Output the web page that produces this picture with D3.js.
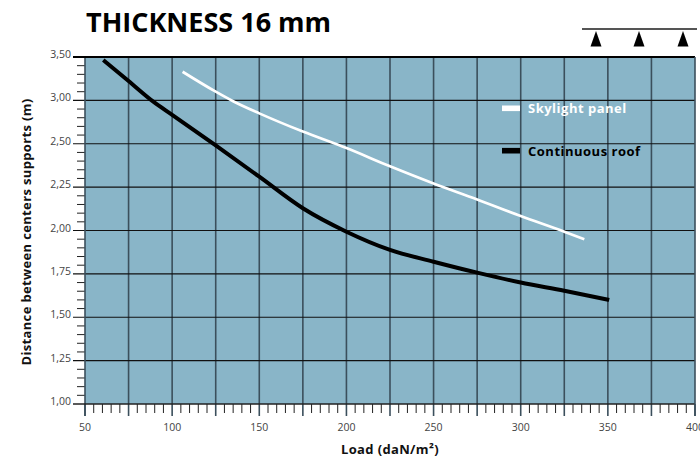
<!DOCTYPE html>
<html><head><meta charset="utf-8">
<script src="https://cdn.jsdelivr.net/npm/d3@7/dist/d3.min.js"></script>
<style>body{margin:0;background:#fff}svg{display:block}</style>
</head><body><svg id="c" width="700" height="458"></svg>
<script>
// ---- data ----
const chartTitle = "THICKNESS 16 mm";
const xTitle = "Load (daN/m²)";
const yTitle = "Distance between centers supports (m)";
const seriesNames = ["Skylight panel", "Continuous roof"];
const xLabelTicks = [50, 100, 150, 200, 250, 300, 350, 400];
const xGridTicks = [50, 75, 100, 125, 150, 175, 200, 225, 250, 275, 300, 325, 350, 375, 400];
const yTickValues = [1.00, 1.25, 1.50, 1.75, 2.00, 2.25, 2.50, 3.00, 3.50];
const yTickLabels = ["1,00", "1,25", "1,50", "1,75", "2,00", "2,25", "2,50", "3,00", "3,50"];
const skylightLoad = [106, 125, 135, 150, 175, 200, 225, 250, 275, 300, 325, 336.5];
const skylightSpan = [3.33, 3.10, 2.99, 2.85, 2.64, 2.475, 2.37, 2.271, 2.179, 2.083, 1.993, 1.949];
const roofLoad = [60.5, 75, 89.2, 100, 125, 150, 175, 200, 225, 250, 275, 300, 325, 350.8];
const roofSpan = [3.465, 3.223, 2.985, 2.834, 2.49, 2.31, 2.128, 1.993, 1.888, 1.82, 1.757, 1.70, 1.653, 1.60];

// ---- layout ----
const L = 85, R = 695, T = 57, B = 404;
const svg = d3.select("#c");
const FONT = "Open Sans, sans-serif";

const x = d3.scaleLinear().domain([50, 400]).range([L, R]);
// the original chart spaces its (uneven) labels evenly: piecewise linear scale
const y = d3.scaleLinear().domain(yTickValues)
  .range(yTickValues.map((d, i) => B - i * (B - T) / (yTickValues.length - 1)));

// background
svg.append("rect").attr("x", L).attr("y", T).attr("width", R - L).attr("height", B - T)
  .attr("fill", "#89b5c8");

// vertical grid
svg.append("g").selectAll("line").data(xGridTicks.filter(d => d > 50 && d < 400)).join("line")
  .attr("x1", d => x(d)).attr("x2", d => x(d)).attr("y1", T).attr("y2", B)
  .attr("stroke", "#3b4f5c").attr("stroke-width", 1.6);

// horizontal grid (+ major ticks extending left)
svg.append("g").selectAll("line").data(yTickValues.filter(d => d > 1 && d < 3.5)).join("line")
  .attr("x1", L - 12).attr("x2", R).attr("y1", d => y(d)).attr("y2", d => y(d))
  .attr("stroke", "#111").attr("stroke-width", 1.2);

// y minor ticks
const yMinor = [];
for (let i = 0; i < yTickValues.length - 1; i++) {
  const a = yTickValues[i], b = yTickValues[i + 1];
  for (let k = 1; k < 5; k++) yMinor.push(a + (b - a) * k / 5);
}
svg.append("g").selectAll("line").data(yMinor).join("line")
  .attr("x1", L - 8).attr("x2", L).attr("y1", d => y(d)).attr("y2", d => y(d))
  .attr("stroke", "#222").attr("stroke-width", 1);

// x minor & major ticks
const xMinor = d3.range(50, 401, 5).filter(d => d % 25 !== 0);
svg.append("g").selectAll("line").data(xMinor).join("line")
  .attr("x1", d => x(d)).attr("x2", d => x(d)).attr("y1", B).attr("y2", B + 9)
  .attr("stroke", "#222").attr("stroke-width", 1);
svg.append("g").selectAll("line").data(xGridTicks).join("line")
  .attr("x1", d => x(d)).attr("x2", d => x(d)).attr("y1", B).attr("y2", B + 12)
  .attr("stroke", "#3b4f5c").attr("stroke-width", 1.6);

// axes frame
svg.append("line").attr("x1", L).attr("x2", L).attr("y1", T).attr("y2", B + 12)
  .attr("stroke", "#3b4f5c").attr("stroke-width", 1.6);
svg.append("line").attr("x1", L - 12).attr("x2", R).attr("y1", B).attr("y2", B)
  .attr("stroke", "#222").attr("stroke-width", 1.4);
svg.append("line").attr("x1", L - 12).attr("x2", R).attr("y1", T).attr("y2", T)
  .attr("stroke", "#000").attr("stroke-width", 2);
svg.append("line").attr("x1", R).attr("x2", R).attr("y1", T).attr("y2", B + 12)
  .attr("stroke", "#3b4f5c").attr("stroke-width", 1.6);

// tick labels
svg.append("g").selectAll("text").data(yTickValues).join("text")
  .attr("x", L - 14).attr("y", d => y(d) + 1)
  .attr("text-anchor", "end")
  .attr("font-family", FONT).attr("font-size", 10.5).attr("fill", "#444")
  .text((d, i) => yTickLabels[i]);
svg.append("g").selectAll("text").data(xLabelTicks).join("text")
  .attr("x", d => x(d)).attr("y", B + 27)
  .attr("text-anchor", "middle")
  .attr("font-family", FONT).attr("font-size", 10.5).attr("fill", "#444")
  .text(d => d);

// axis titles
svg.append("text").attr("x", 390).attr("y", 454).attr("text-anchor", "middle")
  .attr("font-family", FONT).attr("font-weight", 700).attr("font-size", 13)
  .attr("letter-spacing", 0.35).attr("fill", "#111").text(xTitle);
svg.append("text").attr("transform", "translate(31,232) rotate(-90)").attr("text-anchor", "middle")
  .attr("font-family", FONT).attr("font-weight", 700).attr("font-size", 13)
  .attr("letter-spacing", 0.35).attr("fill", "#111").text(yTitle);

// title
svg.append("text").attr("x", 86).attr("y", 32)
  .attr("font-family", FONT).attr("font-weight", 700).attr("font-size", 27)
  .attr("fill", "#000").text(chartTitle);

// supports icon
svg.append("line").attr("x1", 582).attr("x2", 697).attr("y1", 29).attr("y2", 29)
  .attr("stroke", "#555").attr("stroke-width", 2);
svg.append("g").selectAll("path").data([596, 639, 683]).join("path")
  .attr("d", d => `M${d},31 L${d - 5.5},46.5 L${d + 5.5},46.5 Z`).attr("fill", "#000");

// series
const line = d3.line().x(d => x(d[0])).y(d => y(d[1])).curve(d3.curveMonotoneX);
const skyPts = skylightLoad.map((v, i) => [v, skylightSpan[i]]);
const roofPts = roofLoad.map((v, i) => [v, roofSpan[i]]);
svg.append("path").attr("d", line(skyPts)).attr("fill", "none")
  .attr("stroke", "#fff").attr("stroke-width", 2.7).attr("stroke-linecap", "butt");
svg.append("path").attr("d", line(roofPts)).attr("fill", "none")
  .attr("stroke", "#000").attr("stroke-width", 4).attr("stroke-linecap", "butt");

// legend
const legend = [
  { name: seriesNames[0], color: "#fff", ly: 108.3, ty: 112.5 },
  { name: seriesNames[1], color: "#000", ly: 150.7, ty: 156 }
];
legend.forEach(l => {
  svg.append("rect").attr("x", 502).attr("y", l.ly - 2.8).attr("width", 18).attr("height", 5.6).attr("fill", l.color);
  svg.append("text").attr("x", 528).attr("y", l.ty)
    .attr("font-family", FONT).attr("font-weight", 700).attr("font-size", 13)
    .attr("letter-spacing", 0.5).attr("fill", l.color).text(l.name);
});
</script></body></html>
